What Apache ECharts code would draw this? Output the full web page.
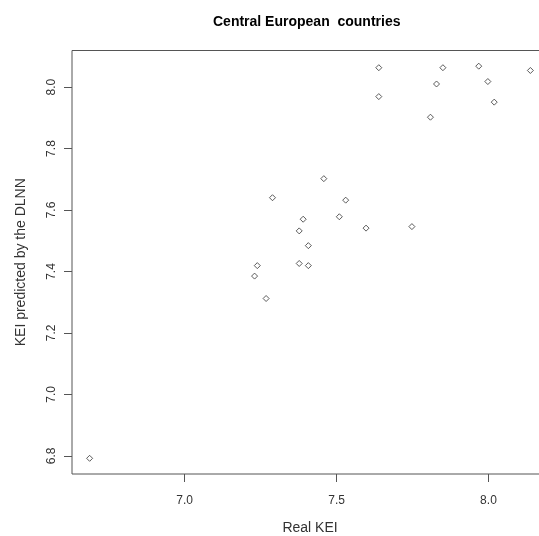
<!DOCTYPE html>
<html>
<head>
<meta charset="utf-8">
<script src="https://cdn.jsdelivr.net/npm/echarts@6/dist/echarts.min.js"></script>
<style>
  html, body { margin: 0; padding: 0; overflow: hidden; background: #fff; }
  #chart { width: 560px; height: 536px; }
</style>
</head>
<body>
<div id="chart"></div>
<script>
// Real KEI vs KEI predicted by the DLNN
const realKEI = [7.639, 7.639, 7.850, 7.829, 7.809, 7.968, 7.998, 8.019, 8.138,
  7.458, 7.289, 7.530, 7.509, 7.390, 7.377, 7.597, 7.748, 7.407, 7.377, 7.407,
  7.239, 7.230, 7.268, 6.687]
const predictedKEI = [8.063, 7.969, 8.063, 8.010, 7.902, 8.068, 8.018, 7.951, 8.054,
  7.702, 7.640, 7.632, 7.578, 7.570, 7.532, 7.541, 7.546, 7.484, 7.426, 7.419,
  7.419, 7.385, 7.312, 6.792]
const xTicks = [7.0, 7.5, 8.0]
const yTicks = [6.8, 7.0, 7.2, 7.4, 7.6, 7.8, 8.0]

const points = realKEI.map((x, i) => [x, predictedKEI[i]])

const chart = echarts.init(document.getElementById('chart'))
const font = 'Liberation Sans, Arial, sans-serif'

chart.setOption({
  animation: false,
  title: {
    text: 'Central European  countries',
    left: 213,
    top: 15,
    padding: 0,
    textStyle: { fontFamily: font, fontSize: 14, fontWeight: 'bold', color: '#000' }
  },
  grid: {
    left: 72,
    top: 50.5,
    width: 476,
    height: 423.5,
    containLabel: false,
    outerBoundsMode: 'none',
    show: true,
    borderColor: '#555',
    borderWidth: 1,
    backgroundColor: 'transparent'
  },
  xAxis: {
    type: 'value',
    min: 6.629,
    max: 8.196,
    name: 'Real KEI',
    nameLocation: 'middle',
    nameGap: 47,
    nameTextStyle: { fontFamily: font, fontSize: 14, color: '#333' },
    axisLine: { show: false },
    splitLine: { show: false },
    axisTick: { show: true, length: 8, customValues: xTicks, lineStyle: { color: '#555' } },
    axisLabel: {
      customValues: xTicks,
      margin: 21,
      fontFamily: font,
      fontSize: 12,
      color: '#333',
      formatter: v => v.toFixed(1)
    }
  },
  yAxis: {
    type: 'value',
    min: 6.741,
    max: 8.119,
    name: 'KEI predicted by the DLNN',
    nameLocation: 'middle',
    nameGap: 44,
    nameRotate: 90,
    nameTextStyle: { fontFamily: font, fontSize: 14, color: '#333' },
    axisLine: { show: false },
    splitLine: { show: false },
    axisTick: { show: true, length: 8, customValues: yTicks, lineStyle: { color: '#555' } },
    axisLabel: {
      customValues: yTicks,
      rotate: 90,
      margin: 14,
      fontFamily: font,
      fontSize: 12,
      color: '#333',
      formatter: v => v.toFixed(1)
    }
  },
  series: [
    {
      type: 'scatter',
      data: points,
      symbol: 'diamond',
      symbolSize: 6,
      itemStyle: { color: '#fff', borderColor: '#333', borderWidth: 1 }
    }
  ]
})
</script>
</body>
</html>
